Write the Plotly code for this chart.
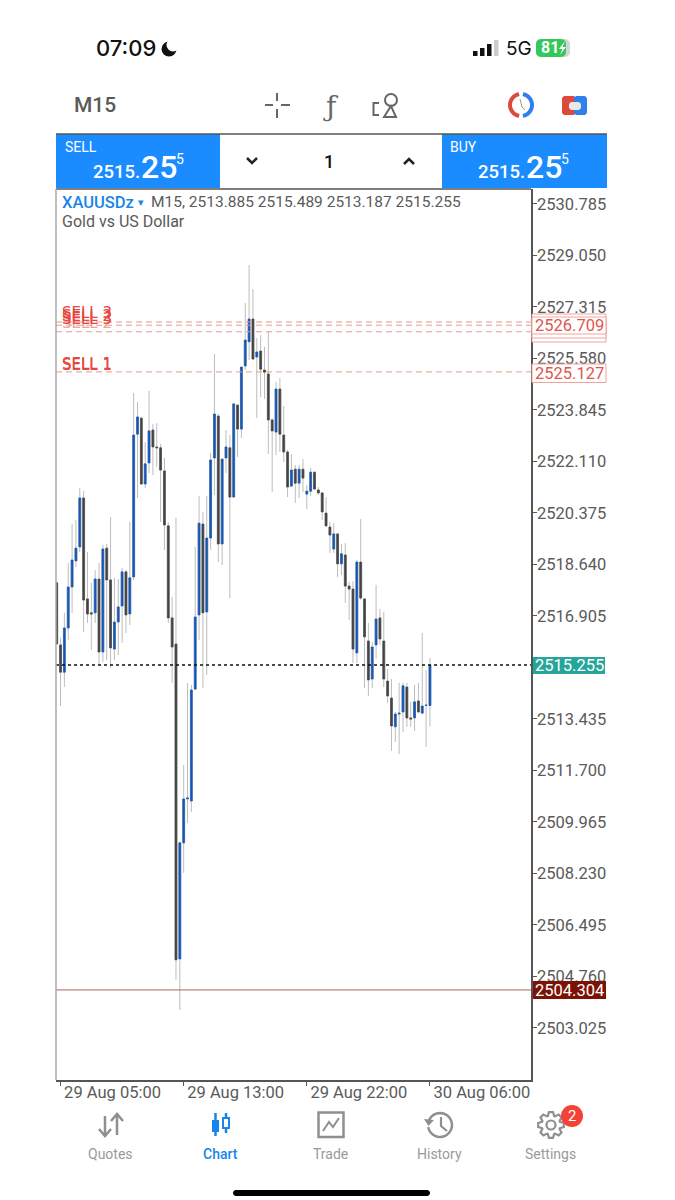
import math
import plotly.graph_objects as go

# M15 bars (blue = up, dark = down)
opens = [2518.02, 2515.93, 2515.01, 2516.50, 2517.88, 2518.76, 2519.23, 2520.88, 2517.48, 2517.01,
         2517.01, 2518.15, 2515.69, 2519.19, 2518.12, 2515.79, 2516.70, 2517.24, 2518.39, 2516.97,
         2518.22, 2523.03, 2523.57, 2521.35, 2522.06, 2523.17, 2522.60, 2522.57, 2521.79, 2519.94,
         2516.84, 2515.96, 2505.35, 2509.26, 2510.74, 2510.67, 2514.44, 2516.94, 2520.00, 2517.04,
         2519.53, 2522.23, 2523.64, 2519.33, 2522.23, 2522.57, 2520.91, 2524.01, 2523.20, 2525.33,
         2526.14, 2526.91, 2525.63, 2525.83, 2525.19, 2525.06, 2523.51, 2523.10, 2524.55, 2523.00,
         2522.43, 2521.28, 2521.85, 2521.38, 2521.85, 2521.01, 2521.11, 2521.75, 2521.15, 2521.05,
         2520.37, 2519.90, 2519.16, 2519.67, 2518.66, 2518.96, 2517.91, 2517.81, 2515.66, 2518.72,
         2517.48, 2516.06, 2514.78, 2515.93, 2516.84, 2516.06, 2514.71, 2514.14, 2513.17, 2513.60,
         2513.67, 2514.51, 2513.47, 2513.47, 2514.04, 2513.63, 2513.89, 2513.885]
highs = [2518.05, 2516.17, 2517.01, 2518.69, 2520.00, 2520.14, 2521.21, 2521.12, 2519.06, 2518.02,
         2518.45, 2518.69, 2519.30, 2519.33, 2520.24, 2518.19, 2518.15, 2518.52, 2518.45, 2520.07,
         2524.42, 2524.11, 2523.61, 2522.76, 2524.49, 2523.37, 2523.40, 2522.70, 2522.23, 2520.07,
         2517.54, 2520.21, 2509.30, 2511.89, 2514.65, 2514.58, 2519.23, 2520.95, 2520.40, 2520.95,
         2522.40, 2525.73, 2523.71, 2522.19, 2523.17, 2523.00, 2524.08, 2524.01, 2525.29, 2527.45,
         2528.73, 2527.92, 2526.27, 2526.37, 2525.97, 2526.47, 2523.57, 2524.79, 2524.92, 2523.98,
         2522.50, 2522.36, 2521.99, 2521.99, 2522.19, 2521.32, 2521.89, 2521.75, 2521.25, 2521.08,
         2520.91, 2520.07, 2520.03, 2519.67, 2519.33, 2519.36, 2518.05, 2518.08, 2518.79, 2520.17,
         2517.48, 2516.67, 2516.03, 2517.95, 2517.14, 2517.04, 2515.12, 2514.78, 2513.67, 2514.65,
         2514.65, 2514.65, 2514.01, 2514.58, 2514.65, 2516.33, 2515.08, 2515.489]
lows = [2515.96, 2513.87, 2514.51, 2516.10, 2517.01, 2518.55, 2519.06, 2516.36, 2516.67, 2515.76,
        2516.67, 2515.25, 2515.35, 2515.42, 2515.15, 2515.42, 2515.59, 2516.00, 2516.33, 2516.60,
        2518.12, 2520.88, 2521.32, 2521.21, 2521.72, 2521.65, 2521.92, 2520.07, 2519.13, 2516.67,
        2514.65, 2504.64, 2503.63, 2508.25, 2509.93, 2510.30, 2514.41, 2516.10, 2514.48, 2514.92,
        2519.13, 2520.98, 2518.72, 2518.62, 2521.72, 2517.51, 2520.91, 2522.26, 2522.90, 2525.19,
        2525.53, 2525.56, 2523.57, 2524.28, 2524.22, 2522.36, 2521.08, 2522.33, 2522.43, 2522.09,
        2520.91, 2521.25, 2520.71, 2520.88, 2521.08, 2520.51, 2520.95, 2521.18, 2520.98, 2520.14,
        2519.90, 2519.03, 2519.03, 2518.21, 2518.28, 2517.34, 2516.77, 2515.32, 2515.32, 2517.44,
        2514.48, 2514.21, 2514.48, 2515.46, 2515.93, 2514.51, 2513.97, 2512.36, 2512.66, 2512.25,
        2512.99, 2513.17, 2513.17, 2513.03, 2513.63, 2513.63, 2512.49, 2513.187]
closes = [2515.96, 2515.01, 2516.50, 2517.88, 2518.79, 2519.19, 2520.88, 2517.44, 2516.97, 2516.97,
          2518.15, 2515.69, 2519.16, 2518.12, 2515.83, 2516.70, 2517.21, 2518.39, 2516.94, 2518.19,
          2523.00, 2523.61, 2521.35, 2522.03, 2523.14, 2522.60, 2522.57, 2521.82, 2519.97, 2516.84,
          2515.86, 2505.32, 2509.26, 2510.74, 2510.77, 2514.41, 2516.87, 2520.03, 2517.01, 2519.53,
          2522.16, 2523.71, 2519.33, 2522.19, 2522.60, 2520.91, 2524.05, 2523.20, 2525.29, 2526.20,
          2526.91, 2525.56, 2525.80, 2525.22, 2525.12, 2523.51, 2523.14, 2524.55, 2523.03, 2522.43,
          2521.25, 2521.82, 2521.38, 2521.85, 2521.55, 2521.11, 2521.75, 2521.18, 2521.05, 2520.41,
          2519.94, 2519.63, 2519.67, 2518.66, 2519.00, 2517.91, 2517.81, 2515.79, 2518.72, 2517.51,
          2516.20, 2514.75, 2515.86, 2516.80, 2516.13, 2514.78, 2514.21, 2513.20, 2513.60, 2513.63,
          2514.55, 2513.47, 2513.43, 2514.01, 2513.67, 2513.87, 2513.90, 2515.255]
bar_index = list(range(len(opens)))

price_ticks = [2530.785, 2529.050, 2527.315, 2525.580, 2523.845, 2522.110, 2520.375, 2518.640, 2516.905,
               2513.435, 2511.700, 2509.965, 2508.230, 2506.495, 2504.760, 2503.025]
time_ticks = [1, 33, 65, 97]
time_labels = ['29 Aug 05:00', '29 Aug 13:00', '29 Aug 22:00', '30 Aug 06:00']

current_price = 2515.255
stop_price = 2504.304
sell_levels = [2526.81, 2526.70, 2526.48, 2525.127]
sell_labels = ['SELL 2', 'SELL 3', 'SELL 2', 'SELL 3', 'SELL 1', 'SELL 1']
sell_label_prices = [2526.77, 2527.11, 2527.01, 2526.91, 2525.39, 2525.36]
sell_label_colors = ['#eda39c', '#e8453c', '#e8453c', '#e8453c', '#e8453c', '#e8453c']

BLUE = '#1657b4'
DARK = '#444444'
WICK = '#bdbdbd'
APP_BLUE = '#1a8cff'
GRAY = '#9a9a9a'

# the page keeps the browser's 8px body margin, so the figure is 667x1192
FIG_W = 667
FIG_H = 1192

shapes = []
notes = []


# page pixels to paper coordinates
def X(px):
    return (px - 8) / FIG_W


def Y(py):
    return 1 - (py - 8) / FIG_H


def rect(x0, y0, x1, y1, fill=None, line=None, width=1):
    shapes.append(dict(type='rect', xref='paper', yref='paper', x0=X(x0), x1=X(x1), y0=Y(y1), y1=Y(y0),
                       fillcolor=fill or 'rgba(0,0,0,0)', line=dict(color=line or 'rgba(0,0,0,0)', width=width if line else 0),
                       layer='above'))


def circle(cx, cy, r, fill=None, line=None, width=1):
    shapes.append(dict(type='circle', xref='paper', yref='paper', x0=X(cx - r), x1=X(cx + r), y0=Y(cy + r), y1=Y(cy - r),
                       fillcolor=fill or 'rgba(0,0,0,0)', line=dict(color=line or 'rgba(0,0,0,0)', width=width if line else 0),
                       layer='above'))


def poly(points, line=None, width=1.5, fill=None, closed=False):
    d = 'M' + ' L'.join(f'{X(a):.5f},{Y(b):.5f}' for a, b in points) + (' Z' if closed else '')
    shapes.append(dict(type='path', xref='paper', yref='paper', path=d, fillcolor=fill or 'rgba(0,0,0,0)',
                       line=dict(color=line or 'rgba(0,0,0,0)', width=width if line else 0), layer='above'))


def arc(cx, cy, r, a0, a1, n=24):
    return [(cx + r * math.cos(math.radians(a0 + (a1 - a0) * k / n)),
             cy + r * math.sin(math.radians(a0 + (a1 - a0) * k / n))) for k in range(n + 1)]


def roundrect(x0, y0, x1, y1, r, fill):
    pts = arc(x0 + r, y0 + r, r, 180, 270, 6) + arc(x1 - r, y0 + r, r, 270, 360, 6) \
        + arc(x1 - r, y1 - r, r, 0, 90, 6) + arc(x0 + r, y1 - r, r, 90, 180, 6)
    poly(pts, fill=fill, closed=True)


def txt(x, y, s, size, color, anchor='left', family='Roboto', weight=400):
    notes.append(dict(xref='paper', yref='paper', x=X(x), y=Y(y), text=s, showarrow=False, xanchor=anchor,
                      yanchor='middle', font=dict(family=family, size=size, color=color, weight=weight), borderpad=0))


# status bar
txt(95, 48, '07:09', 22, '#111111', weight=500, family='Inter')
circle(169, 49, 7.5, fill='#111111')
circle(173, 45, 6.5, fill='#ffffff')
for bx, bh, col in [(473, 5, '#111'), (480, 8, '#111'), (487, 12, '#111'), (494, 16, '#cccccc')]:
    rect(bx, 56 - bh, bx + 4.5, 56, fill=col)
txt(505, 49, '5G', 19, '#111111', family='Inter')
roundrect(536, 39, 570, 57, 5, '#d5d5d5')
roundrect(536, 39, 566, 57, 5, '#34c759')
txt(540, 48, '81', 16, '#ffffff', weight=700)
poly([(565, 41), (559, 49), (562.5, 49), (560, 55), (566, 47), (562.5, 47)], fill='#ffffff', closed=True)

# toolbar
txt(73, 105, 'M15', 21, '#5a5a5a', weight=500)
for seg in [[(265, 105), (273, 105)], [(281, 105), (290, 105)], [(277, 93), (277, 101)], [(277, 109), (277, 118)]]:
    poly(seg, line='#666666', width=2)
txt(331, 106, 'ƒ', 28, '#666666', anchor='center', family='DejaVu Serif')
circle(391, 100, 6, line='#666666', width=2)
poly([(391, 106), (384, 117), (396, 117)], line='#666666', width=2, closed=True)
poly([(379, 103), (373.5, 103), (373.5, 115), (379, 115)], line='#666666', width=2)
poly(arc(521, 105, 11, 100, 260), line='#dc4a3d', width=4)
poly(arc(521, 105, 11, -80, 80), line='#2f80ed', width=4)
poly([(520, 99), (522, 107), (525, 110)], line='#999999', width=1)
roundrect(562, 96, 576, 115, 3, '#dc4a3d')
roundrect(574, 96, 587, 115, 3, '#2f80ed')
roundrect(569, 102, 581, 110, 3, '#e8e8e8')

# sell / buy bar
rect(56, 134, 220, 188, fill=APP_BLUE)
rect(442, 134, 607, 188, fill=APP_BLUE)
poly([(56, 134), (607, 134)], line='#555555', width=1.5)
for lx, label in [(64, 'SELL'), (449, 'BUY')]:
    txt(lx, 147, label, 14, '#ffffff')
for lx in [92, 477]:
    txt(lx, 172, '2515.', 18.5, '#ffffff', weight=500)
    txt(lx + 48, 167, '25', 32, '#ffffff', weight=500)
    txt(lx + 83, 159, '5', 14, '#ffffff')
poly([(247, 158), (252, 163), (257, 158)], line='#222222', width=2.5)
txt(329, 162, '1', 18, '#111111', anchor='center', weight=500)
poly([(404, 164), (409, 159), (414, 164)], line='#222222', width=2.5)

# chart header
txt(61, 202, 'XAUUSDz', 16.5, '#1a85e8', weight=500)
txt(137, 202, '▾', 11, '#1a85e8')
txt(150, 202, 'M15, 2513.885 2515.489 2513.187 2515.255', 15.5, '#5a5a5a')
txt(61, 221, 'Gold vs US Dollar', 16, '#5a5a5a')

# plot frame, top and left sides
poly([(56, 189), (531, 189)], line='#555555', width=1.5)
poly([(56, 189), (56, 1080)], line='#aaaaaa', width=1.5)

# price tags right of the plot
for t0, t1 in [(314, 332), (324, 342), (320, 338), (317, 334)]:
    rect(532, t0, 606, t1, fill='#ffffff', line='#eda39c')
txt(569, 325.5, '2526.709', 16.5, '#e0564c', anchor='center')
rect(532, 364, 606, 382.5, fill='#ffffff', line='#eda39c')
txt(569, 373, '2525.127', 16.5, '#e0564c', anchor='center')
rect(533, 657, 605, 674, fill='#26a69a')
txt(569, 665.5, '2515.255', 16.5, '#ffffff', anchor='center')
rect(533, 981, 606, 999, fill='#7b1205')
txt(569, 990, '2504.304', 16.5, '#ffffff', anchor='center')

# bottom navigation
txt(110, 1154, 'Quotes', 14, GRAY, anchor='center')
txt(220, 1154, 'Chart', 14, '#1a85e8', anchor='center', weight=500)
txt(330, 1154, 'Trade', 14, GRAY, anchor='center')
txt(440, 1154, 'History', 14, GRAY, anchor='center')
txt(550, 1154, 'Settings', 14, GRAY, anchor='center')
poly([(105, 1116), (105, 1135)], line='#8f8f8f', width=2.5)
poly([(99, 1129), (105, 1136), (111, 1129)], line='#8f8f8f', width=2.5)
poly([(117, 1135), (117, 1115)], line='#8f8f8f', width=2.5)
poly([(111, 1121), (117, 1114), (123, 1121)], line='#8f8f8f', width=2.5)
poly([(215.5, 1113), (215.5, 1136)], line='#1a85e8', width=2.5)
rect(212, 1120, 219, 1132, fill='#1a85e8')
poly([(226, 1113), (226, 1133)], line='#1a85e8', width=2.5)
rect(223, 1118, 229, 1128, fill='#ffffff', line='#1a85e8', width=2)
rect(318.5, 1112.5, 343.5, 1137, line='#8f8f8f', width=2.5)
poly([(323, 1131), (329, 1122), (333, 1127), (339, 1118)], line='#8f8f8f', width=2)
poly(arc(440, 1125, 12, -160, 170), line='#8f8f8f', width=2.5)
poly([(424, 1119), (428.5, 1126), (434, 1120)], fill='#8f8f8f', closed=True)
poly([(441, 1117), (441, 1126), (447, 1131)], line='#8f8f8f', width=2.2)
gear = []
for k in range(8):
    a = 45 * k - 90
    gear += [(551 + 13 * math.cos(math.radians(a + d)), 1125 + 13 * math.sin(math.radians(a + d))) for d in (-9, 9)]
    gear += [(551 + 9.5 * math.cos(math.radians(a + d)), 1125 + 9.5 * math.sin(math.radians(a + d))) for d in (20, 25)]
poly(gear, line='#8f8f8f', width=2.2, closed=True)
circle(551, 1125, 4.5, line='#8f8f8f', width=2.2)
circle(572, 1116, 11, fill='#f44336')
txt(572, 1116, '2', 15, '#ffffff', anchor='center')
roundrect(233, 1190, 430, 1196, 3, '#000000')

# sell level captions, drawn on the price scale
for label, price, col in zip(sell_labels, sell_label_prices, sell_label_colors):
    notes.append(dict(xref='x', yref='y', x=0.9, y=price, text=label, showarrow=False, xanchor='left', yanchor='middle',
                      font=dict(family='DejaVu Sans', size=15, color=col)))

fig = go.Figure()

# first candlestick carries the thin grey wicks, second one only the bodies
fig.add_trace(go.Candlestick(x=bar_index, open=opens, high=highs, low=lows, close=closes, whiskerwidth=0,
                             increasing=dict(line=dict(color=WICK, width=1), fillcolor='rgba(0,0,0,0)'),
                             decreasing=dict(line=dict(color=WICK, width=1), fillcolor='rgba(0,0,0,0)')))
fig.add_trace(go.Candlestick(x=bar_index, open=opens, close=closes,
                             high=[max(a, b) for a, b in zip(opens, closes)],
                             low=[min(a, b) for a, b in zip(opens, closes)],
                             increasing=dict(line=dict(color=BLUE, width=0.6), fillcolor=BLUE),
                             decreasing=dict(line=dict(color=DARK, width=0.6), fillcolor=DARK)))

for level in sell_levels:
    fig.add_hline(y=level, line=dict(color='#e59a94', width=1, dash='6px,4px'))
fig.add_hline(y=current_price, line=dict(color='#111111', width=1.5, dash='3px,3px'))
fig.add_hline(y=stop_price, line=dict(color='#a9655c', width=1))

fig.update_layout(
    width=FIG_W, height=FIG_H, margin=dict(l=0, r=0, t=0, b=0),
    paper_bgcolor='#ffffff', plot_bgcolor='#ffffff', showlegend=False,
    shapes=list(fig.layout.shapes) + shapes, annotations=notes,
    font=dict(family='Roboto', color='#5a5a5a'),
    xaxis=dict(domain=[X(56), X(531)], range=[-0.18, 123.26], rangeslider=dict(visible=False),
               tickmode='array', tickvals=time_ticks, ticktext=time_labels, ticks='outside', ticklen=4,
               tickcolor='#555555', tickfont=dict(family='Roboto', size=16.5, color='#5a5a5a'), ticklabelshift=52,
               ticklabelstandoff=-8, showgrid=False, zeroline=False, showline=True, linecolor='#555555', linewidth=1.5),
    yaxis=dict(domain=[Y(1080), Y(189)], range=[2501.27, 2531.29], side='right', anchor='x',
               tickmode='array', tickvals=price_ticks, ticktext=[f'{v:.3f}' for v in price_ticks], ticks='outside',
               ticklen=4, tickcolor='#555555', tickfont=dict(family='Roboto', size=16.5, color='#5a5a5a'),
               ticklabelstandoff=-3, showgrid=False, zeroline=False, showline=True, linecolor='#555555', linewidth=1.5),
)

fig.write_html("out.html")
